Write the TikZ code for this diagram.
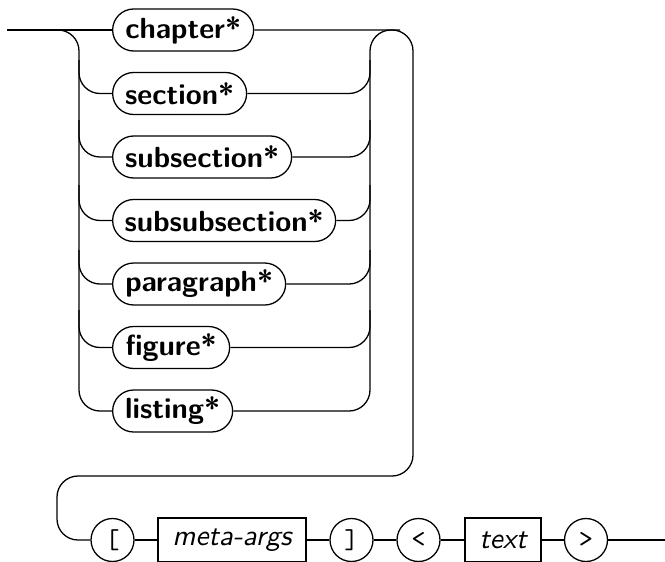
\documentclass[tikz,border=0pt]{standalone}
\usepackage{fontspec}
\begin{document}
\begin{tikzpicture}[x=0.35pt,y=-0.35pt, line width=0.45pt,
  term/.style={draw, rounded corners=7.35pt, minimum height=14.7pt, inner sep=0pt, anchor=west, font=\fontsize{10.2}{12}\selectfont\sffamily\bfseries},
  tok/.style={draw, circle, minimum size=15.05pt, inner sep=0pt, font=\fontsize{9.5}{11}\selectfont\ttfamily},
  meta/.style={draw, rectangle, minimum height=15.4pt, inner sep=0pt, font=\fontsize{10.2}{12}\selectfont\sffamily\itshape},
  rc/.style={rounded corners=7.35pt}]
\useasboundingbox (0,0) rectangle (665,561);
% alternatives
\node[term, minimum width=141*0.35pt] (ch) at (112,30) {chapter*};
\node[term, minimum width=134*0.35pt] (se) at (112,93.5) {section*};
\node[term, minimum width=179*0.35pt] (ss) at (112,157) {subsection*};
\node[term, minimum width=223*0.35pt] (sss) at (112,220.5) {subsubsection*};
\node[term, minimum width=173*0.35pt] (pa) at (112,284) {paragraph*};
\node[term, minimum width=117*0.35pt] (fi) at (112,347.5) {figure*};
\node[term, minimum width=120*0.35pt] (li) at (112,411) {listing*};
% bottom row
\node[tok] (lb) at (112.5,540) {[};
\node[meta, minimum width=148*0.35pt] (ma) at (232,540) {meta-args};
\node[tok] (rb) at (351.5,540) {]};
\node[tok] (la) at (418.5,540) {<};
\node[meta, minimum width=76*0.35pt] (tx) at (503,540) {text};
\node[tok] (ra) at (586,540) {>};
\coordinate (in) at (7,30);
\coordinate (out) at (665,540);
% left rails
\draw (in) -- (ch);
\draw[rc] (in) -- (79,30) |- (li.west);
\draw[rc] (79,60) |- (se.west);
\draw[rc] (79,120) |- (ss.west);
\draw[rc] (79,185) |- (sss.west);
\draw[rc] (79,250) |- (pa.west);
\draw[rc] (79,310) |- (fi.west);
% right rails
\draw[rc] (li.east) -| (370,30) -- (400,30);
\draw[rc] (se.east) -| (370,60);
\draw[rc] (ss.east) -| (370,120);
\draw[rc] (sss.east) -| (370,185);
\draw[rc] (pa.east) -| (370,250);
\draw[rc] (fi.east) -| (370,310);
\draw[rc] (ch.east) -- (413,30) -- (413,476) -- (57,476) -- (57,540) -- (lb.west);
% bottom row connectors
\draw (lb) -- (ma);
\draw (ma) -- (rb);
\draw (rb) -- (la);
\draw (la) -- (tx);
\draw (tx) -- (ra);
\draw (ra) -- (out);
\end{tikzpicture}
\end{document}
